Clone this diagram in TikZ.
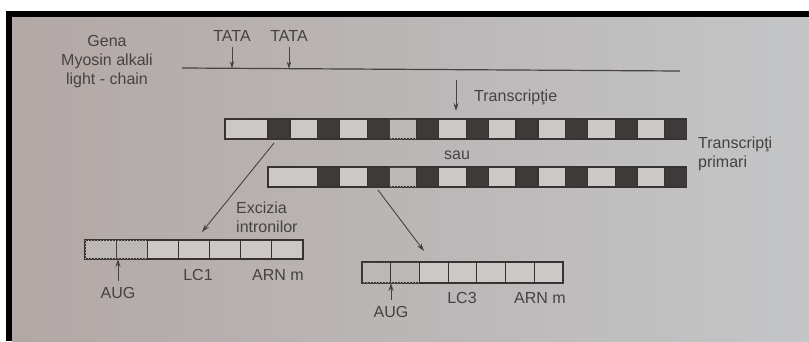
\documentclass[tikz,border=0pt]{standalone}
\usepackage{fontspec}
\setmainfont{Liberation Sans}
\usetikzlibrary{arrows.meta,positioning,calc,patterns}

\definecolor{ink}{RGB}{70,66,66}
\definecolor{boxline}{RGB}{55,51,51}
\definecolor{introncol}{RGB}{62,58,58}
\definecolor{exoncol}{RGB}{204,200,198}
\definecolor{dotcol}{RGB}{188,183,181}
\definecolor{paperleft}{RGB}{178,168,166}
\definecolor{paperright}{RGB}{196,197,199}

\begin{document}
\begin{tikzpicture}[
    x=1pt, y=-1pt,
    txt/.style={font=\fontsize{16}{19}\selectfont, text=ink, inner sep=0pt},
    cell/.style={draw=boxline, line width=1.1pt, inner sep=0pt, outer sep=0pt},
    cellex/.style={cell, fill=exoncol, minimum width=27.6pt},
    cellin/.style={cell, fill=introncol, minimum width=22pt},
    celldt/.style={cell, fill=dotcol, minimum width=27.6pt,
        postaction={pattern=crosshatch dots, pattern color=boxline!30}},
    arr/.style={draw=ink, line width=0.9pt, -{Stealth[length=8pt,width=5pt]}},
    smallarr/.style={draw=ink, line width=0.9pt, -{Stealth[length=7pt,width=4.5pt]}}
]

% Photo frame
\useasboundingbox (0,0) rectangle (809,341);
\fill[white] (0,0) rectangle (809,341);
\fill[black] (6,11) rectangle (809,17);
\fill[black] (6,11) rectangle (12,341);
\shade[left color=paperleft, right color=paperright] (12,17) rectangle (809,341);

% Gene
\node[txt, align=center] (gena) at (107,62) {Gena\\Myosin alkali\\light - chain};
\coordinate (gs) at (182,68);
\coordinate (ge) at (680,71);
\draw[ink, line width=1.2pt] (gs) -- (ge);

% TATA boxes
\node[txt] (tata1) at (232,36) {TATA};
\node[txt] (tata2) at (289,36) {TATA};
\coordinate (tip1) at ($(gs)!0.1!(ge)$);
\coordinate (tip2) at ($(gs)!0.215!(ge)$);
\draw[smallarr, shorten <=5pt] (tata1) -- (tata1 |- tip1);
\draw[smallarr, shorten <=5pt] (tata2) -- (tata2 |- tip2);

% Transcription
\node[txt, anchor=west] (transc) at (474,97.5) {Transcripţie};
\coordinate (tr-top) at (456,80);
\coordinate (tr-tip) at (456,111);
\draw[arr] (tr-top) -- (tr-tip);

% Primary transcript 1
\node[cellex, minimum width=43pt, minimum height=20pt, anchor=west] (ra-0) at (225,129) {};
\foreach \t [count=\i, remember=\i as \j (initially 0)] in {in,ex,in,ex,in,dt,in,ex,in,ex,in,ex,in,ex,in,ex,in}
    \node[cell\t, minimum height=20pt, right=0pt of ra-\j] (ra-\i) {};

\node[txt] (sau) at (457,155) {sau};

% Primary transcript 2
\node[cellex, minimum width=49.6pt, minimum height=20pt, anchor=west] (rb-0) at (268,177) {};
\foreach \t [count=\i, remember=\i as \j (initially 0)] in {in,ex,in,dt,in,ex,in,ex,in,ex,in,ex,in,ex,in}
    \node[cell\t, minimum height=20pt, right=0pt of rb-\j] (rb-\i) {};

\node[txt, align=left, anchor=west] (primari) at (698,154) {Transcripţi\\primari};

% Splicing
\node[txt, align=left, anchor=west] (excizia) at (236,217.5) {Excizia\\intronilor};
\coordinate (ex1-from) at (274,143);
\coordinate (ex1-to) at (202,232);
\coordinate (ex2-from) at (378,190);
\coordinate (ex2-to) at (424,251);
\draw[arr] (ex1-from) -- (ex1-to);
\draw[arr] (ex2-from) -- (ex2-to);

% mRNA LC1
\node[celldt, minimum width=31.14pt, minimum height=19pt, anchor=west] (ma-1) at (85,249.5) {};
\node[celldt, minimum width=31.14pt, minimum height=19pt, right=0pt of ma-1] (ma-2) {};
\foreach \i [remember=\i as \j (initially 2)] in {3,...,7}
    \node[cellex, minimum width=31.14pt, minimum height=19pt, right=0pt of ma-\j] (ma-\i) {};

\node[txt] (lcone) at (198,275) {LC1};
\node[txt] (arnone) at (278,275) {ARN m};
\node[txt] (augone) at (118,293) {AUG};
\draw[arr, shorten <=6pt] (augone) -- (augone |- ma-1.south);

% mRNA LC3
\node[celldt, minimum width=28.71pt, minimum height=21pt, anchor=west] (mb-1) at (362,272.5) {};
\node[celldt, minimum width=28.71pt, minimum height=21pt, right=0pt of mb-1] (mb-2) {};
\foreach \i [remember=\i as \j (initially 2)] in {3,...,7}
    \node[cellex, minimum width=28.71pt, minimum height=21pt, right=0pt of mb-\j] (mb-\i) {};

\node[txt] (lcthree) at (462,298) {LC3};
\node[txt] (arnthree) at (540,298) {ARN m};
\node[txt] (augthree) at (391,312) {AUG};
\draw[arr, shorten <=6pt] (augthree) -- (augthree |- mb-1.south);

\end{tikzpicture}
\end{document}
